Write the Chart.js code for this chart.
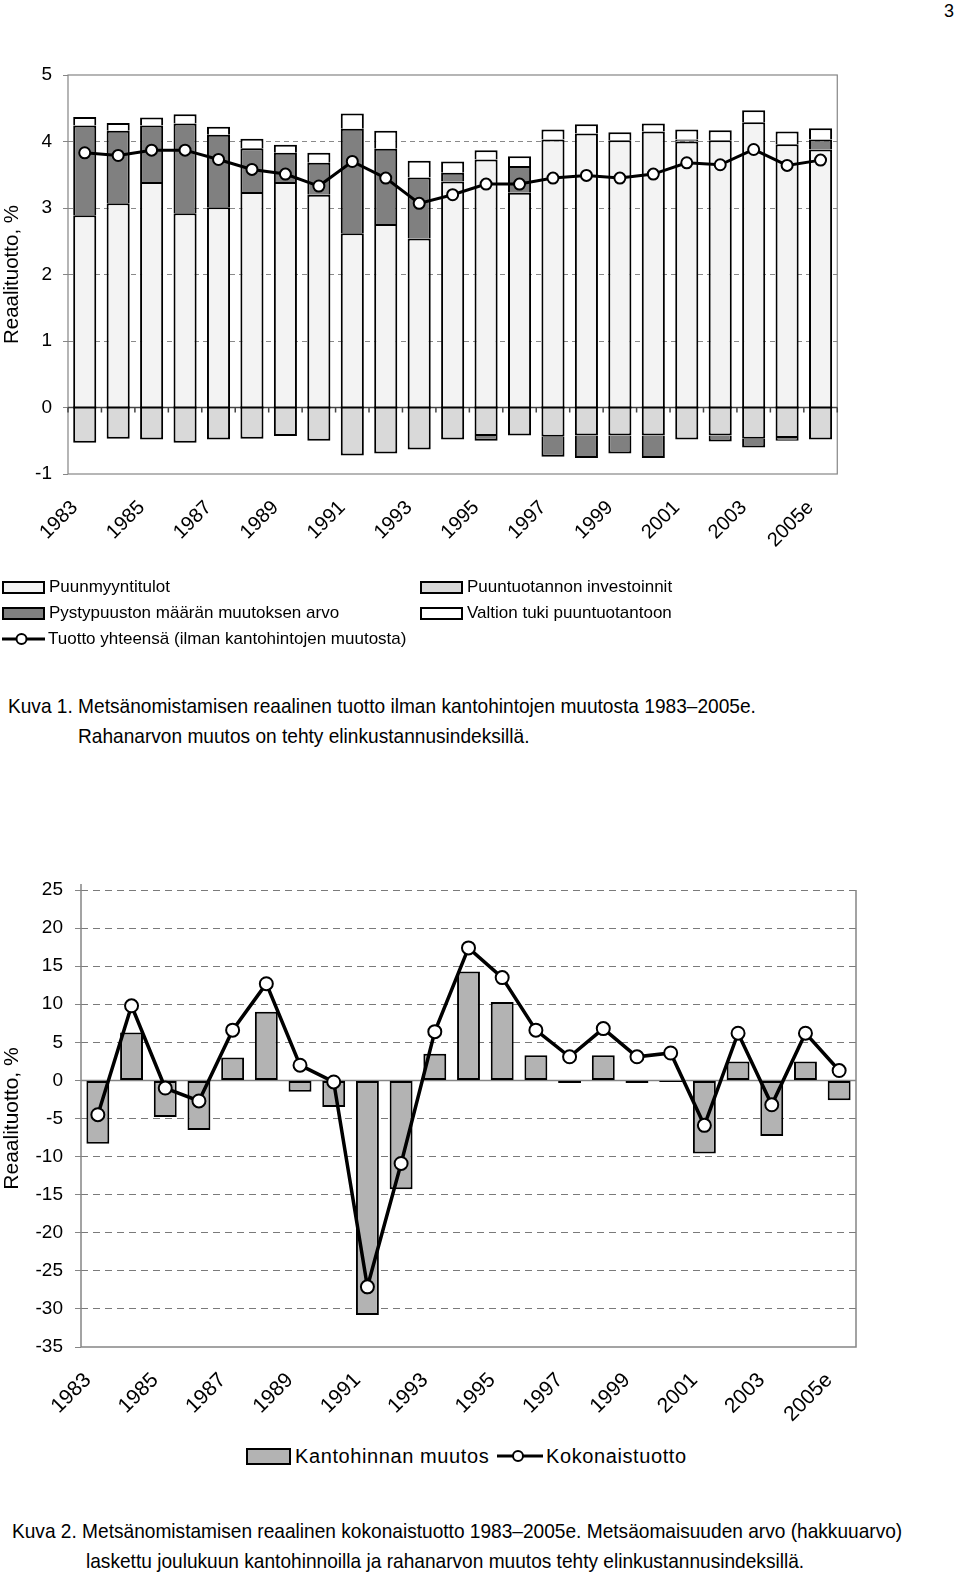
<!DOCTYPE html>
<html>
<head>
<meta charset="utf-8">
<script src="https://cdn.jsdelivr.net/npm/chart.js@4.4.0/dist/chart.umd.min.js"></script>
<style>
  body { margin: 0; background: #fff; font-family: "Liberation Sans", Arial, sans-serif; color: #000; }
  #page { position: relative; width: 960px; height: 1577px; overflow: hidden; }
  canvas { position: absolute; }
  .txt { position: absolute; white-space: nowrap; }
  .cap { font-size: 21px; line-height: 30px; transform: scaleX(0.91); transform-origin: 0 0; }
  .lg { position: absolute; display: flex; align-items: center; white-space: nowrap; height: 20px; }
  .lg .box { box-sizing: border-box; border: 2px solid #000; margin-right: 4px; }
  .lg svg { margin-right: 3px; }
</style>
</head>
<body>
<div id="page">
  <div class="txt" style="left:944px; top:1px; font-size:18px;">3</div>

  <canvas id="chart1" width="860" height="560" style="left:0; top:40px;"></canvas>
  <div id="legend1"></div>

  <div class="txt cap" style="left:8px; top:691px;">Kuva 1. Metsänomistamisen reaalinen tuotto ilman kantohintojen muutosta 1983–2005e.</div>
  <div class="txt cap" style="left:78px; top:721px;">Rahanarvon muutos on tehty elinkustannusindeksillä.</div>

  <canvas id="chart2" width="880" height="580" style="left:0; top:860px;"></canvas>
  <div id="legend2"></div>

  <div class="txt cap" style="left:12px; top:1516px;">Kuva 2. Metsänomistamisen reaalinen kokonaistuotto 1983–2005e. Metsäomaisuuden arvo (hakkuuarvo)</div>
  <div class="txt cap" style="left:86px; top:1546px;">laskettu joulukuun kantohinnoilla ja rahanarvon muutos tehty elinkustannusindeksillä.</div>
</div>

<script>
// --- data ---
const years = ['1983', '1984', '1985', '1986', '1987', '1988', '1989', '1990', '1991', '1992', '1993', '1994',
               '1995', '1996', '1997', '1998', '1999', '2000', '2001', '2002', '2003', '2004', '2005e'];

// Kuva 1, % per year
const puunmyyntitulot = [2.89, 3.07, 3.39, 2.92, 3.01, 3.24, 3.39, 3.20, 2.62, 2.76, 2.54, 3.40,
                         3.73, 3.23, 4.03, 4.12, 4.02, 4.15, 4.00, 4.02, 4.29, 3.96, 3.88];
const pystypuusto = [1.35, 1.09, 0.85, 1.35, 1.09, 0.66, 0.44, 0.48, 1.57, 1.13, 0.92, 0.13,
                     -0.07, 0.40, -0.30, -0.34, -0.27, -0.34, 0.03, -0.09, -0.13, -0.04, 0.15];
const valtionTuki = [0.13, 0.12, 0.12, 0.14, 0.12, 0.14, 0.12, 0.15, 0.23, 0.27, 0.25, 0.17,
                     0.14, 0.15, 0.15, 0.14, 0.12, 0.12, 0.15, 0.15, 0.18, 0.19, 0.17];
const investoinnit = [-0.53, -0.47, -0.48, -0.53, -0.48, -0.47, -0.43, -0.50, -0.72, -0.69, -0.63, -0.48,
                      -0.43, -0.42, -0.44, -0.42, -0.42, -0.42, -0.48, -0.42, -0.47, -0.46, -0.48];
const tuottoYhteensa = [3.83, 3.79, 3.87, 3.87, 3.73, 3.58, 3.51, 3.33, 3.70, 3.45, 3.07, 3.20,
                        3.36, 3.36, 3.45, 3.49, 3.45, 3.51, 3.68, 3.65, 3.88, 3.64, 3.72];

// Kuva 2, % per year
const kantohinnanMuutos = [-8.3, 6.3, -4.8, -6.5, 3.0, 9.0, -1.5, -3.5, -30.8, -14.3, 3.5, 14.3,
                           10.3, 3.3, -0.35, 3.3, -0.35, -0.2, -9.6, 2.5, -7.3, 2.5, -2.6];
const kokonaistuotto = [-4.5, 9.8, -1.0, -2.7, 6.6, 12.7, 2.0, -0.2, -27.1, -10.9, 6.4, 17.4,
                        13.5, 6.6, 3.1, 6.8, 3.1, 3.6, -5.9, 6.2, -3.2, 6.2, 1.3];

const yTicks1 = { min: -1, max: 5, step: 1 };
const yTicks2 = { min: -35, max: 25, step: 5 };

const FONT = '"Liberation Sans", Arial, sans-serif';
const yTitle = 'Reaalituotto, %';

function everyOther(v, i) { return i % 2 === 0 ? years[i] : ''; }

// frame, zero line and category ticks for chart 1
const frame1 = {
  id: 'frame1',
  beforeDatasetsDraw(chart) {
    const { ctx, chartArea: a, scales } = chart;
    const y0 = scales.y.getPixelForValue(0);
    const half = (scales.x.getPixelForValue(1) - scales.x.getPixelForValue(0)) / 2;
    ctx.save();
    ctx.strokeStyle = '#858585';
    ctx.lineWidth = 1.2;
    ctx.strokeRect(a.left, a.top, a.width, a.height);
    ctx.strokeStyle = '#444';
    ctx.lineWidth = 1.5;
    ctx.beginPath();
    ctx.moveTo(a.left, y0); ctx.lineTo(a.right, y0);
    for (let i = 0; i <= years.length; i++) {
      const x = scales.x.getPixelForValue(i) - half;
      ctx.moveTo(x, y0); ctx.lineTo(x, y0 + 5);
    }
    ctx.stroke();
    ctx.restore();
  },
  afterDatasetsDraw(chart) {
    const { ctx, scales } = chart;
    const y0 = scales.y.getPixelForValue(0);
    ctx.save();
    ctx.strokeStyle = '#000';
    ctx.lineWidth = 2;
    ctx.beginPath();
    chart.getDatasetMeta(1).data.forEach(b => {
      ctx.moveTo(b.x - b.width / 2, y0); ctx.lineTo(b.x + b.width / 2, y0);
    });
    ctx.stroke();
    ctx.restore();
  }
};

const frame2 = {
  id: 'frame2',
  beforeDatasetsDraw(chart) {
    const { ctx, chartArea: a, scales } = chart;
    const y0 = scales.y.getPixelForValue(0);
    ctx.save();
    ctx.strokeStyle = '#858585';
    ctx.lineWidth = 1.5;
    ctx.beginPath();
    ctx.moveTo(a.left, a.top - 6); ctx.lineTo(a.left, a.bottom); ctx.lineTo(a.right, a.bottom); ctx.lineTo(a.right, a.top);
    ctx.moveTo(a.left, y0); ctx.lineTo(a.right, y0);
    ctx.stroke();
    ctx.restore();
  }
};

const bar1 = { type: 'bar', stack: 's', order: 1, borderColor: '#000', borderWidth: 2, borderSkipped: 'start',
               barPercentage: 0.69, categoryPercentage: 1 };

const chart1 = new Chart(document.getElementById('chart1'), {
  data: {
    labels: years,
    datasets: [
      { type: 'line', label: 'Tuotto yhteensä (ilman kantohintojen muutosta)', data: tuottoYhteensa, order: 0,
        borderColor: '#000', borderWidth: 3, tension: 0,
        pointRadius: 5.5, pointBackgroundColor: '#fff', pointBorderColor: '#000', pointBorderWidth: 2 },
      { ...bar1, label: 'Puunmyyntitulot', data: puunmyyntitulot, backgroundColor: '#f3f3f3' },
      { ...bar1, label: 'Puuntuotannon investoinnit', data: investoinnit, backgroundColor: '#d9d9d9' },
      { ...bar1, label: 'Pystypuuston määrän muutoksen arvo', data: pystypuusto, backgroundColor: '#808080' },
      { ...bar1, label: 'Valtion tuki puuntuotantoon', data: valtionTuki, backgroundColor: '#ffffff' }
    ]
  },
  options: {
    responsive: false,
    animation: false,
    layout: { padding: { top: 35, right: 22, left: 0, bottom: 0 } },
    plugins: { legend: { display: false }, tooltip: { enabled: false } },
    scales: {
      x: {
        stacked: true,
        grid: { display: false, drawTicks: false },
        border: { display: false },
        ticks: { autoSkip: false, minRotation: 45, maxRotation: 45, padding: 22, labelOffset: -10,
                 color: '#000', font: { family: FONT, size: 20 }, callback: everyOther },
        afterFit: s => { s.height = 126; }
      },
      y: {
        stacked: true,
        min: yTicks1.min, max: yTicks1.max,
        ticks: { stepSize: yTicks1.step, padding: 11, color: '#000', font: { family: FONT, size: 19 } },
        grid: { color: c => (c.tick.value === 0 || c.tick.value === yTicks1.min || c.tick.value === yTicks1.max) ? 'rgba(0,0,0,0)' : '#8a8a8a',
                tickColor: '#858585', tickLength: 5, lineWidth: 1 },
        border: { display: false, dash: [5, 4] },
        title: { display: true, text: yTitle, color: '#000', font: { family: FONT, size: 20.5 }, padding: 0 },
        afterFit: s => { s.width = 68; }
      }
    }
  },
  plugins: [frame1]
});

const chart2 = new Chart(document.getElementById('chart2'), {
  data: {
    labels: years,
    datasets: [
      { type: 'line', label: 'Kokonaistuotto', data: kokonaistuotto, order: 0,
        borderColor: '#000', borderWidth: 3.5, tension: 0,
        pointRadius: 6.5, pointBackgroundColor: '#fff', pointBorderColor: '#000', pointBorderWidth: 2 },
      { type: 'bar', label: 'Kantohinnan muutos', data: kantohinnanMuutos, order: 1,
        backgroundColor: '#b3b3b3', borderColor: '#000', borderWidth: 2, borderSkipped: false,
        barPercentage: 0.68, categoryPercentage: 1 }
    ]
  },
  options: {
    responsive: false,
    animation: false,
    layout: { padding: { top: 30, right: 24, left: 0, bottom: 0 } },
    plugins: { legend: { display: false }, tooltip: { enabled: false } },
    scales: {
      x: {
        grid: { display: false, drawTicks: false },
        border: { display: false },
        ticks: { autoSkip: false, minRotation: 45, maxRotation: 45, padding: 21, labelOffset: -10,
                 color: '#000', font: { family: FONT, size: 21 }, callback: everyOther },
        afterFit: s => { s.height = 93; }
      },
      y: {
        min: yTicks2.min, max: yTicks2.max,
        ticks: { stepSize: yTicks2.step, padding: 12, color: '#000', font: { family: FONT, size: 19 } },
        grid: { color: c => (c.tick.value === 0 || c.tick.value === yTicks2.min) ? 'rgba(0,0,0,0)' : '#7a7a7a',
                tickColor: '#858585', tickLength: 6, lineWidth: 1 },
        border: { display: false, dash: [7, 5] },
        title: { display: true, text: yTitle, color: '#000', font: { family: FONT, size: 21 }, padding: 0 },
        afterFit: s => { s.width = 81; }
      }
    }
  },
  plugins: [frame2]
});

// HTML legends built from the chart datasets
function lineIcon(w) {
  return '<svg width="' + w + '" height="14"><line x1="0" y1="7" x2="' + w + '" y2="7" stroke="#000" stroke-width="3"/>' +
         '<circle cx="' + (w / 2 - 2) + '" cy="7" r="5" fill="#fff" stroke="#000" stroke-width="2"/></svg>';
}
function legendItem(ds, left, top, size, boxW, boxH, spacing) {
  const icon = ds.type === 'line'
    ? lineIcon(boxW)
    : '<span class="box" style="width:' + boxW + 'px;height:' + boxH + 'px;background:' + ds.backgroundColor + '"></span>';
  return '<div class="lg" style="left:' + left + 'px;top:' + top + 'px;font-size:' + size + 'px;letter-spacing:' + (spacing || 0) + 'px">' +
         icon + '<span>' + ds.label + '</span></div>';
}
const d1 = chart1.data.datasets;
document.getElementById('legend1').innerHTML =
  legendItem(d1[1], 2, 577, 17, 43, 13) +
  legendItem(d1[3], 2, 603, 17, 43, 13) +
  legendItem(d1[0], 2, 629, 17, 43, 13) +
  legendItem(d1[2], 420, 577, 17, 43, 13) +
  legendItem(d1[4], 420, 603, 17, 43, 13);
const d2 = chart2.data.datasets;
document.getElementById('legend2').innerHTML =
  legendItem(d2[1], 246, 1446, 20, 45, 17, 0.6) +
  legendItem(d2[0], 497, 1446, 20, 46, 17, 0.6);
</script>
</body>
</html>
